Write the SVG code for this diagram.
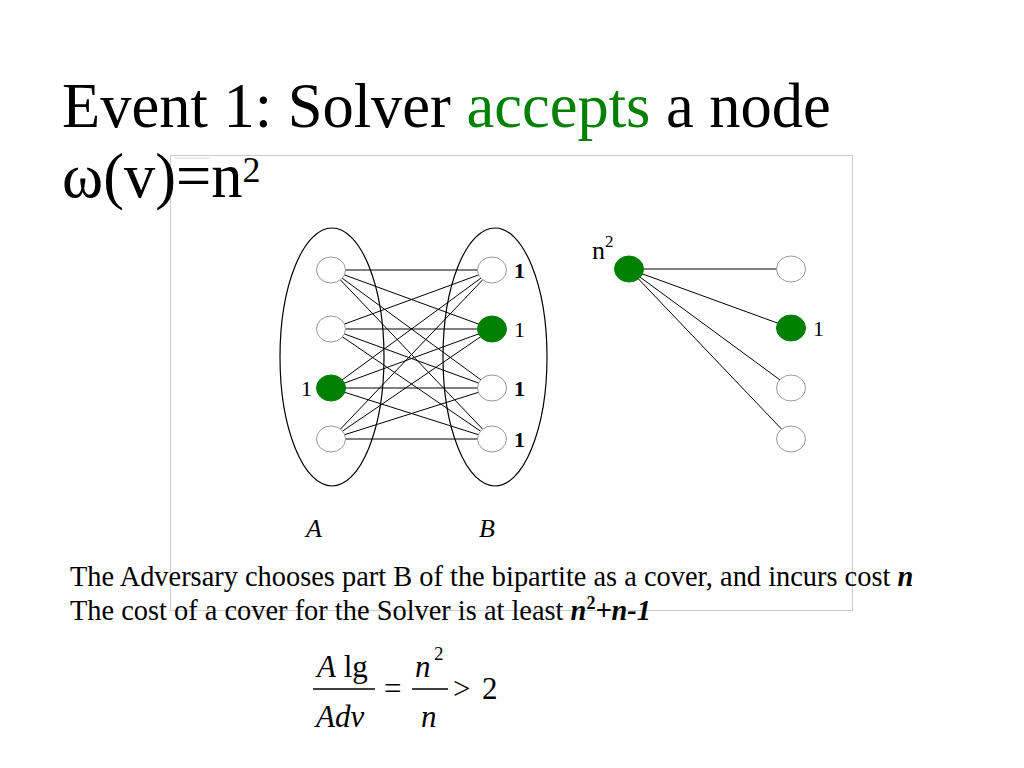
<svg xmlns="http://www.w3.org/2000/svg" width="1024" height="768" viewBox="0 0 1024 768">
<style>
text{font-family:"Liberation Serif","Times New Roman",serif;fill:#000}
.ttl{font-size:62.5px}
.body{font-size:28.4px}
.lbl{font-size:22px}
.bl{font-weight:bold}
.it{font-style:italic}
.fx{font-size:31px}
.node{fill:#fff;stroke:#999;stroke-width:1}
.on{fill:#008000;stroke:#008000;stroke-width:1}
.part{fill:none;stroke:#000;stroke-width:1.2}
.edges line{stroke:#000;stroke-width:1}
</style>
<rect width="1024" height="768" fill="#fff"/>
<rect x="170.5" y="155.5" width="682" height="455" fill="none" stroke="#ccc" stroke-width="1"/>
<line x1="174" y1="158" x2="210" y2="158" stroke="#ddd" stroke-width="1"/>
<g id="title">
<text class="ttl" x="62" y="127">Event 1: Solver <tspan fill="#008000">accepts</tspan> a node</text>
<text class="ttl" x="62" y="197">ω(v)=n<tspan font-size="36" dy="-15">2</tspan></text>
</g>
<g id="partA"><ellipse class="part" cx="332" cy="357" rx="52" ry="129"/></g>
<g id="partB"><ellipse class="part" cx="495" cy="357" rx="52" ry="129"/></g>
<g id="connectors" class="edges">
<line x1="331" y1="270" x2="492" y2="270"/>
<line x1="331" y1="270" x2="492" y2="329"/>
<line x1="331" y1="270" x2="492" y2="388"/>
<line x1="331" y1="270" x2="492" y2="439"/>
<line x1="331" y1="329" x2="492" y2="270"/>
<line x1="331" y1="329" x2="492" y2="329"/>
<line x1="331" y1="329" x2="492" y2="388"/>
<line x1="331" y1="329" x2="492" y2="439"/>
<line x1="331" y1="388" x2="492" y2="270"/>
<line x1="331" y1="388" x2="492" y2="329"/>
<line x1="331" y1="388" x2="492" y2="388"/>
<line x1="331" y1="388" x2="492" y2="439"/>
<line x1="331" y1="439" x2="492" y2="270"/>
<line x1="331" y1="439" x2="492" y2="329"/>
<line x1="331" y1="439" x2="492" y2="388"/>
<line x1="331" y1="439" x2="492" y2="439"/>
<line x1="629" y1="269" x2="791" y2="269" stroke="#666"/>
<line x1="629" y1="269" x2="791" y2="328"/>
<line x1="629" y1="269" x2="791" y2="388"/>
<line x1="629" y1="269" x2="791" y2="439"/>
</g>
<g id="a1"><ellipse class="node" cx="331" cy="270" rx="14.5" ry="13"/></g>
<g id="a2"><ellipse class="node" cx="331" cy="329" rx="14.5" ry="13"/></g>
<g id="a3"><ellipse class="on" cx="331" cy="388" rx="14.5" ry="13"/><text class="lbl" x="301" y="396">1</text></g>
<g id="a4"><ellipse class="node" cx="331" cy="439" rx="14.5" ry="13"/></g>
<g id="b1"><ellipse class="node" cx="492" cy="270" rx="14.5" ry="13"/><text class="lbl bl" x="514" y="278">1</text></g>
<g id="b2"><ellipse class="on" cx="492" cy="329" rx="14.5" ry="13"/><text class="lbl" x="514" y="337">1</text></g>
<g id="b3"><ellipse class="node" cx="492" cy="388" rx="14.5" ry="13"/><text class="lbl bl" x="514" y="396">1</text></g>
<g id="b4"><ellipse class="node" cx="492" cy="439" rx="14.5" ry="13"/><text class="lbl bl" x="514" y="447">1</text></g>
<g id="labelA"><text class="it" font-size="26" x="306" y="537">A</text></g>
<g id="labelB"><text class="it" font-size="26" x="479" y="537">B</text></g>
<g id="c0"><ellipse class="on" cx="629" cy="269" rx="14.5" ry="13"/><text font-size="26" x="592" y="259">n<tspan font-size="17" dy="-12">2</tspan></text></g>
<g id="c1"><ellipse class="node" cx="791" cy="269" rx="14.5" ry="13"/></g>
<g id="c2"><ellipse class="on" cx="791" cy="328" rx="14.5" ry="13"/><text class="lbl" x="813" y="336">1</text></g>
<g id="c3"><ellipse class="node" cx="791" cy="388" rx="14.5" ry="13"/></g>
<g id="c4"><ellipse class="node" cx="791" cy="439" rx="14.5" ry="13"/></g>
<g id="caption">
<text class="body" x="70" y="586">The Adversary chooses part B of the bipartite as a cover, and incurs cost <tspan class="bl it">n</tspan></text>
<text class="body" x="70" y="620">The cost of a cover for the Solver is at least <tspan class="bl it">n</tspan><tspan class="bl" font-size="18" dy="-11">2</tspan><tspan class="bl it" dy="11">+n-1</tspan></text>
</g>
<g id="formula">
<text class="fx" x="317" y="677"><tspan class="it">A</tspan> lg</text>
<line x1="313" y1="689" x2="375" y2="689" stroke="#000" stroke-width="1.5"/>
<text class="fx it" x="316" y="727">Adv</text>
<text class="fx" x="384" y="699">=</text>
<text class="fx it" x="415" y="677">n</text>
<text font-size="19" x="434" y="660">2</text>
<line x1="412" y1="689" x2="448" y2="689" stroke="#000" stroke-width="1.5"/>
<text class="fx it" x="421" y="727">n</text>
<text class="fx" x="453" y="699">&gt;</text>
<text class="fx" x="482" y="699">2</text>
</g>
</svg>
